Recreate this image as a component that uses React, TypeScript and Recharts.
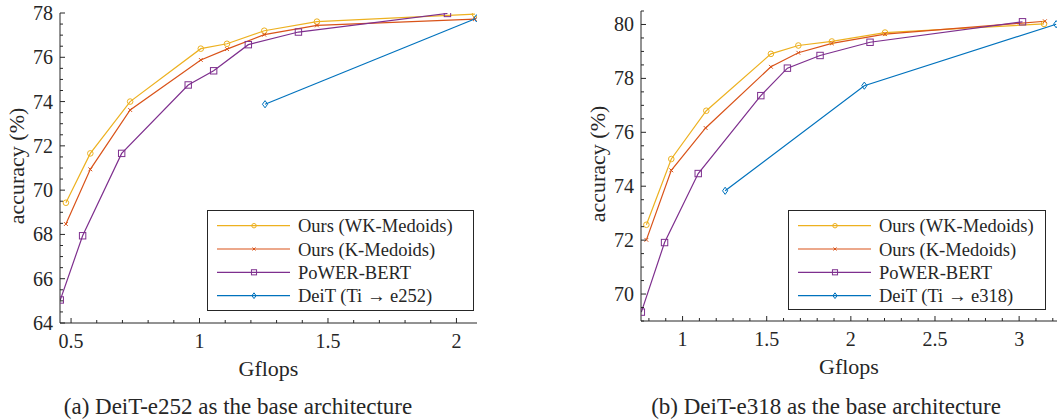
import { Legend, Line, LineChart, XAxis, YAxis } from "recharts";

const INK = "#262626";
const FONT = "'Liberation Serif', 'Times New Roman', Times, serif";

const WK_COLOR = "#EDB120";
const K_COLOR = "#D95319";
const POWER_COLOR = "#7E2F8E";
const DEIT_COLOR = "#0072BD";

// (a) DeiT-e252
const E252_WK_GFLOPS = [0.48, 0.575, 0.73, 1.005, 1.107, 1.252, 1.457, 2.072];
const E252_WK_ACC = [69.43, 71.66, 74.0, 76.39, 76.61, 77.2, 77.61, 77.95];
const E252_K_GFLOPS = [0.48, 0.575, 0.73, 1.005, 1.107, 1.252, 1.457, 2.072];
const E252_K_ACC = [68.47, 70.94, 73.62, 75.88, 76.37, 77.02, 77.44, 77.72];
const E252_POWER_GFLOPS = [0.458, 0.545, 0.697, 0.956, 1.055, 1.19, 1.385, 1.965];
const E252_POWER_ACC = [65.04, 67.94, 71.66, 74.75, 75.39, 76.57, 77.14, 77.98];
const E252_DEIT_GFLOPS = [1.255, 2.078];
const E252_DEIT_ACC = [73.88, 77.76];

// (b) DeiT-e318
const E318_WK_GFLOPS = [0.785, 0.933, 1.141, 1.525, 1.688, 1.887, 2.203, 3.148];
const E318_WK_ACC = [72.57, 75.01, 76.8, 78.91, 79.22, 79.37, 79.7, 80.02];
const E318_K_GFLOPS = [0.785, 0.933, 1.137, 1.525, 1.688, 1.887, 2.203, 3.153];
const E318_K_ACC = [72.01, 74.59, 76.16, 78.43, 78.95, 79.3, 79.64, 80.12];
const E318_POWER_GFLOPS = [0.755, 0.893, 1.093, 1.465, 1.623, 1.817, 2.114, 3.02];
const E318_POWER_ACC = [69.33, 71.91, 74.47, 77.36, 78.38, 78.85, 79.34, 80.1];
const E318_DEIT_GFLOPS = [1.253, 2.08, 3.22];
const E318_DEIT_ACC = [73.83, 77.73, 80.01];

const E252_X_TICKS = [0.5, 1, 1.5, 2];
const E252_Y_TICKS = [64, 66, 68, 70, 72, 74, 76, 78];
const E318_X_TICKS = [1, 1.5, 2, 2.5, 3];
const E318_Y_TICKS = [70, 72, 74, 76, 78, 80];

const CAPTIONS = [
  "(a) DeiT-e252 as the base architecture",
  "(b) DeiT-e318 as the base architecture"
];

type MarkerKind = "circle" | "cross" | "square" | "diamond";

interface Series {
  name: string;
  xs: number[];
  ys: number[];
  color: string;
  marker: MarkerKind;
}

const E252_SERIES: Series[] = [
  { name: "Ours (WK-Medoids)", xs: E252_WK_GFLOPS, ys: E252_WK_ACC, color: WK_COLOR, marker: "circle" },
  { name: "Ours (K-Medoids)", xs: E252_K_GFLOPS, ys: E252_K_ACC, color: K_COLOR, marker: "cross" },
  { name: "PoWER-BERT", xs: E252_POWER_GFLOPS, ys: E252_POWER_ACC, color: POWER_COLOR, marker: "square" },
  { name: "DeiT (Ti → e252)", xs: E252_DEIT_GFLOPS, ys: E252_DEIT_ACC, color: DEIT_COLOR, marker: "diamond" }
];

const E318_SERIES: Series[] = [
  { name: "Ours (WK-Medoids)", xs: E318_WK_GFLOPS, ys: E318_WK_ACC, color: WK_COLOR, marker: "circle" },
  { name: "Ours (K-Medoids)", xs: E318_K_GFLOPS, ys: E318_K_ACC, color: K_COLOR, marker: "cross" },
  { name: "PoWER-BERT", xs: E318_POWER_GFLOPS, ys: E318_POWER_ACC, color: POWER_COLOR, marker: "square" },
  { name: "DeiT (Ti → e318)", xs: E318_DEIT_GFLOPS, ys: E318_DEIT_ACC, color: DEIT_COLOR, marker: "diamond" }
];

function range(start: number, stop: number, step: number): number[] {
  const out: number[] = [];
  for (let v = start; v <= stop + 1e-9; v += step) out.push(Math.round(v * 100) / 100);
  return out;
}

const toPoints = (xs: number[], ys: number[]) => xs.map((x, i) => ({ x, y: ys[i] }));

const isMajor = (majors: number[], v: number) => majors.some((m) => Math.abs(m - v) < 1e-6);

function Marker({ kind, cx, cy, color, s = 1 }: { kind: MarkerKind; cx: number; cy: number; color: string; s?: number }) {
  if (kind === "circle") {
    return <circle cx={cx} cy={cy} r={2.8 * s} fill="none" stroke={color} strokeWidth={1} />;
  }
  if (kind === "cross") {
    const d = 1.9 * s;
    return (
      <path
        d={`M${cx - d} ${cy - d}L${cx + d} ${cy + d}M${cx - d} ${cy + d}L${cx + d} ${cy - d}`}
        stroke={color}
        strokeWidth={1}
      />
    );
  }
  if (kind === "square") {
    const h = 3.2 * s;
    return <rect x={cx - h} y={cy - h} width={2 * h} height={2 * h} fill="none" stroke={color} strokeWidth={1} />;
  }
  const w = 2.6 * s;
  const h = 3.6 * s;
  return (
    <path
      d={`M${cx} ${cy - h}L${cx + w} ${cy}L${cx} ${cy + h}L${cx - w} ${cy}Z`}
      fill="none"
      stroke={color}
      strokeWidth={1}
    />
  );
}

function makeXTick(majors: number[]) {
  return (props: any) => {
    const { x, y, payload } = props;
    const major = isMajor(majors, payload.value);
    return (
      <g>
        <line x1={x} x2={x} y1={y} y2={y - (major ? 5 : 3)} stroke={INK} strokeWidth={1} />
        {major ? (
          <text x={x} y={y + 25} textAnchor="middle" fontSize={20} fontFamily={FONT} fill={INK}>
            {String(payload.value)}
          </text>
        ) : null}
      </g>
    );
  };
}

function makeYTick(majors: number[]) {
  return (props: any) => {
    const { x, y, payload } = props;
    const major = isMajor(majors, payload.value);
    return (
      <g>
        <line x1={x} x2={x + (major ? 5 : 3)} y1={y} y2={y} stroke={INK} strokeWidth={1} />
        {major ? (
          <text x={x - 7} y={y + 7} textAnchor="end" fontSize={20} fontFamily={FONT} fill={INK}>
            {String(payload.value)}
          </text>
        ) : null}
      </g>
    );
  };
}

function LegendBox({ series, width, height }: { series: Series[]; width: number; height: number }) {
  const rows = [15.7, 39, 62.3, 85.7];
  return (
    <svg width={width} height={height} style={{ display: "block" }}>
      <rect x={0.5} y={0.5} width={width - 1} height={height - 1} fill="#fff" stroke={INK} strokeWidth={1} />
      {series.map((s, i) => (
        <g key={s.name}>
          <line x1={10} x2={83} y1={rows[i]} y2={rows[i]} stroke={s.color} strokeWidth={1.2} />
          <Marker kind={s.marker} cx={47} cy={rows[i]} color={s.color} s={0.8} />
          <text x={91} y={rows[i] + 6.5} fontSize={18.5} fontFamily={FONT} fill={INK}>
            {s.name}
          </text>
        </g>
      ))}
    </svg>
  );
}

interface PanelProps {
  series: Series[];
  xDomain: [number, number];
  yDomain: [number, number];
  xMajor: number[];
  xAll: number[];
  yMajor: number[];
  yAll: number[];
  margin: { top: number; right: number; bottom: number; left: number };
  legend: { left: number; top: number; width: number; height: number };
}

function Panel({ series, xDomain, yDomain, xMajor, xAll, yMajor, yAll, margin, legend }: PanelProps) {
  return (
    <LineChart width={530} height={419} margin={margin}>
      <XAxis
        type="number"
        dataKey="x"
        domain={xDomain}
        ticks={xAll}
        interval={0}
        height={1}
        tickLine={false}
        tickSize={0}
        tickMargin={0}
        axisLine={{ stroke: INK, strokeWidth: 1 }}
        tick={makeXTick(xMajor)}
        allowDataOverflow
        label={{
          content: (p: any) => {
            const vb = p.viewBox;
            return (
              <text x={vb.x + vb.width / 2} y={vb.y + 53} textAnchor="middle" fontSize={22} fontFamily={FONT} fill={INK}>
                Gflops
              </text>
            );
          }
        }}
      />
      <YAxis
        type="number"
        dataKey="y"
        domain={yDomain}
        ticks={yAll}
        interval={0}
        width={1}
        tickLine={false}
        tickSize={0}
        tickMargin={0}
        axisLine={{ stroke: INK, strokeWidth: 1 }}
        tick={makeYTick(yMajor)}
        allowDataOverflow
        label={{
          content: (p: any) => {
            const vb = p.viewBox;
            const bx = vb.x + vb.width - 36;
            const cy = vb.y + vb.height / 2 - 2;
            return (
              <text
                x={bx}
                y={cy}
                transform={`rotate(-90, ${bx}, ${cy})`}
                textAnchor="middle"
                fontSize={22}
                fontFamily={FONT}
                fill={INK}
              >
                accuracy (%)
              </text>
            );
          }
        }}
      />
      {series.map((s) => (
        <Line
          key={s.name}
          name={s.name}
          data={toPoints(s.xs, s.ys)}
          dataKey="y"
          type="linear"
          stroke={s.color}
          strokeWidth={1.2}
          isAnimationActive={false}
          activeDot={false}
          dot={(p: any) => <Marker key={`${s.name}-${p.index}`} kind={s.marker} cx={p.cx} cy={p.cy} color={s.color} />}
        />
      ))}
      <Legend
        layout="horizontal"
        verticalAlign="middle"
        align="center"
        wrapperStyle={{ position: "absolute", left: legend.left, top: legend.top, width: legend.width, height: legend.height, margin: 0, padding: 0 }}
        content={() => <LegendBox series={series} width={legend.width} height={legend.height} />}
      />
    </LineChart>
  );
}

export default function App() {
  return (
    <div style={{ position: "absolute", left: 0, top: 0, width: 1060, height: 419, background: "#fff" }}>
      <div style={{ position: "absolute", left: 0, top: 0 }}>
        <Panel
          series={E252_SERIES}
          xDomain={[0.457, 2.08]}
          yDomain={[64, 78]}
          xMajor={E252_X_TICKS}
          xAll={range(0.5, 2.0, 0.1)}
          yMajor={E252_Y_TICKS}
          yAll={range(64, 78, 0.5)}
          margin={{ top: 13, right: 53, bottom: 95, left: 59 }}
          legend={{ left: 207, top: 210, width: 267, height: 101 }}
        />
      </div>
      <div style={{ position: "absolute", left: 530, top: 0 }}>
        <Panel
          series={E318_SERIES}
          xDomain={[0.753, 3.225]}
          yDomain={[69, 80.5]}
          xMajor={E318_X_TICKS}
          xAll={range(0.8, 3.2, 0.1)}
          yMajor={E318_Y_TICKS}
          yAll={range(69, 80.5, 0.5)}
          margin={{ top: 11, right: 3, bottom: 97, left: 110 }}
          legend={{ left: 258, top: 210, width: 258, height: 100 }}
        />
      </div>
      <svg width={1060} height={419} style={{ position: "absolute", left: 0, top: 0, pointerEvents: "none" }}>
        <text x={238} y={414} textAnchor="middle" fontSize={23} fontFamily={FONT} fill={INK}>
          {CAPTIONS[0]}
        </text>
        <text x={826} y={414} textAnchor="middle" fontSize={23} fontFamily={FONT} fill={INK}>
          {CAPTIONS[1]}
        </text>
      </svg>
    </div>
  );
}
